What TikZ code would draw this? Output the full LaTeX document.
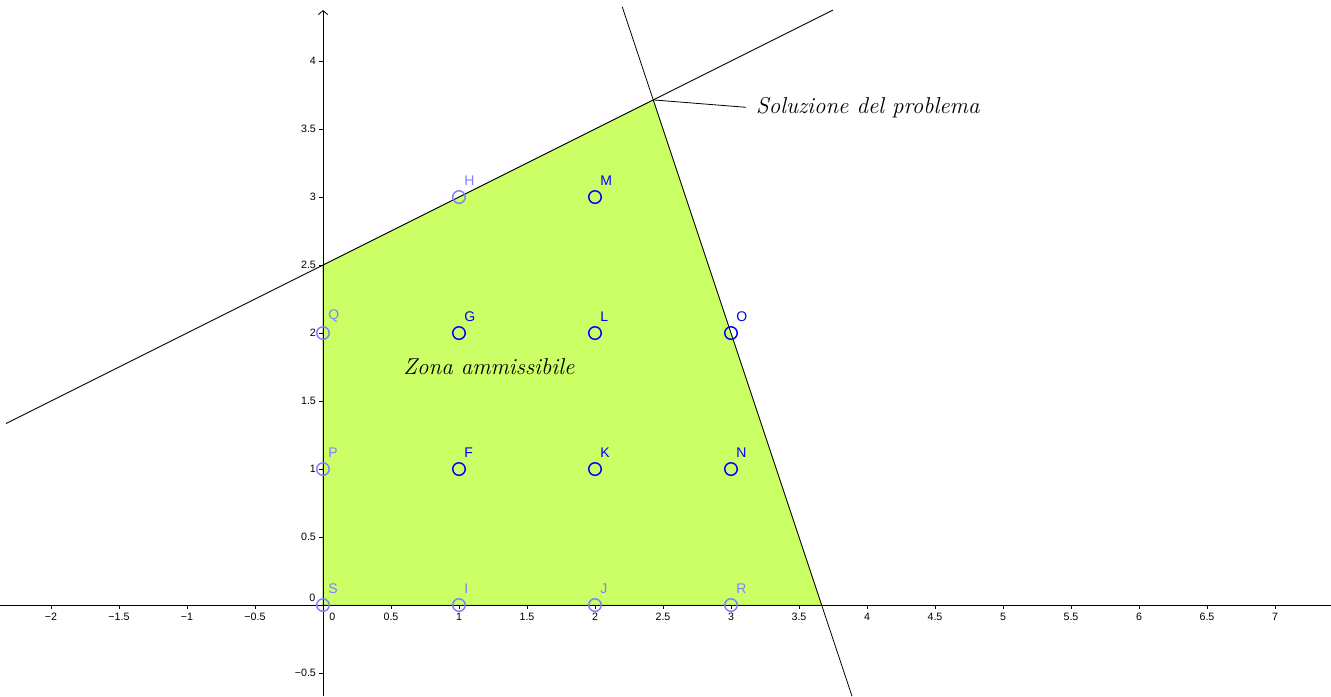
\documentclass[tikz,border=0pt]{standalone}
\usepackage{fontspec}
\setsansfont{Liberation Sans}
\usetikzlibrary{arrows.meta,positioning}
\definecolor{zona}{RGB}{204,255,102}
\definecolor{pale}{RGB}{128,128,255}

\begin{document}
\begin{tikzpicture}[
  x=102pt,y=102pt,
  >={Straight Barb[length=3pt,width=7pt]},
  dot/.style={circle,draw=blue,line width=1.1pt,minimum size=9.4pt,inner sep=0},
  palepoint/.style={dot,draw=pale},
  ptlabel/.style={font=\fontsize{10.5}{12}\sffamily,text=blue,inner sep=0,anchor=south west},
  numlabel/.style={font=\fontsize{8}{9}\sffamily,inner sep=0},
  bigtext/.style={font=\fontsize{17.2}{20}\selectfont\itshape},
  axis/.style={line width=0.6pt},
]
  \useasboundingbox (-2.375,-0.669) rectangle (7.412,4.449);

  % zona ammissibile
  \coordinate (O0) at (0,0);
  \coordinate (A) at (0,2.5);
  \coordinate (sol) at (2.4286,3.7143);
  \coordinate (B) at (3.6667,0);
  \fill[zona,draw=zona!55!black,line width=0.4pt] (O0) -- (A) -- (sol) -- (B) -- cycle;

  % assi
  \coordinate (xa) at (-2.375,0);
  \coordinate (xb) at (7.412,0);
  \coordinate (ya) at (0,-0.669);
  \coordinate (yb) at (0,4.375);
  \draw[axis] (xa) -- (xb);
  \draw[axis,->] (ya) -- (yb);
  \foreach \x in {-2,-1.5,...,7} \draw[axis] (\x,0) -- (\x,-0.03);
  \foreach \y in {-0.5,0.5,1,...,4} \draw[axis] (0,\y) -- (-0.03,\y);
  \foreach \x/\t [count=\i] in {-2/−2,-1.5/−1.5,-1/−1,-0.5/−0.5,0.5/0.5,1/1,1.5/1.5,2/2,2.5/2.5,3/3,3.5/3.5,4/4,4.5/4.5,5/5,5.5/5.5,6/6,6.5/6.5,7/7}
    \node[numlabel,anchor=north] (xt\i) at (\x,-0.058) {\t};
  \node[numlabel,anchor=north] (xt0) at (0.068,-0.058) {0};
  \foreach \y/\t [count=\i] in {-0.5/−0.5,0.5/0.5,1/1,1.5/1.5,2/2,2.5/2.5,3/3,3.5/3.5,4/4}
    \node[numlabel,anchor=east] (yt\i) at (-0.05,\y) {\t};
  \node[numlabel,anchor=east] (yt0) at (-0.055,0.052) {0};

  % vincoli
  \coordinate (r1a) at (-2.33,1.335);
  \coordinate (r1b) at (3.75,4.375);
  \coordinate (r2a) at (2.2,4.4);
  \coordinate (r2b) at (3.89,-0.67);
  \draw[axis] (r1a) -- (r1b);
  \draw[axis] (r2a) -- (r2b);

  % punti a coordinate intere
  \foreach \n/\x/\y in {M/2/3,G/1/2,L/2/2,O/3/2,F/1/1,K/2/1,N/3/1} {
    \node[dot] (\n) at (\x,\y) {};
    \node[ptlabel] (l\n) at (\x+0.037,\y+0.08) {\n};
  }
  \foreach \n/\x/\y in {H/1/3,Q/0/2,P/0/1,S/0/0,I/1/0,J/2/0,R/3/0} {
    \node[palepoint] (\n) at (\x,\y) {};
    \node[ptlabel,text=pale] (l\n) at (\x+0.037,\y+0.08) {\n};
  }

  \node[bigtext,anchor=west,inner xsep=7.5pt] (soltxt) at (3.11,3.66) {Soluzione del problema};
  \draw[axis] (sol) -- (soltxt.west);
  \node[bigtext] (zonatxt) at (1.22,1.75) {Zona ammissibile};
\end{tikzpicture}
\end{document}
